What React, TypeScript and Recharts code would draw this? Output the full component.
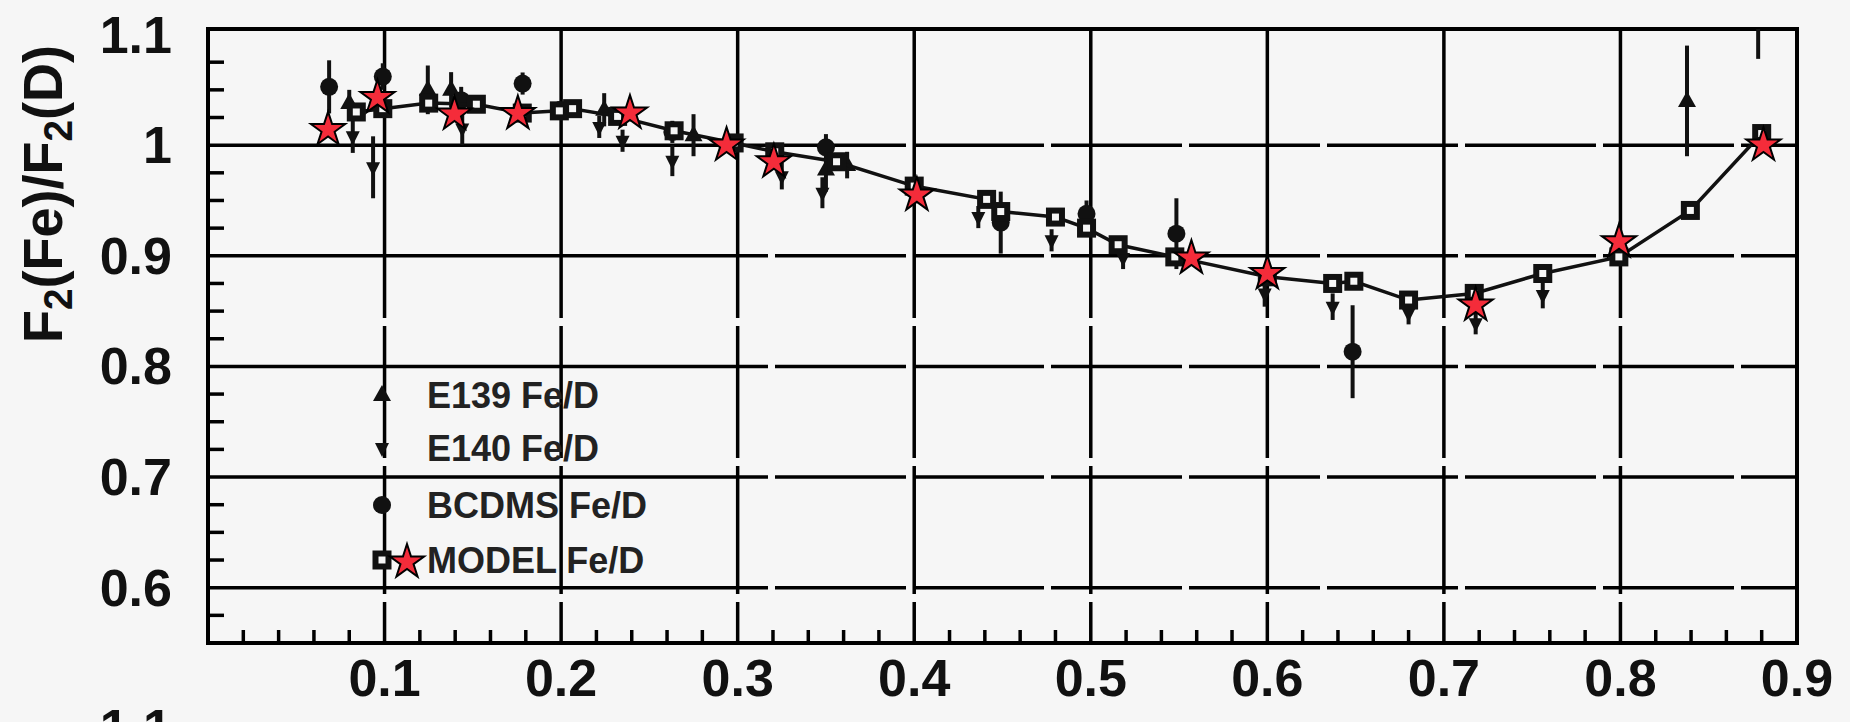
import { CartesianGrid, ErrorBar, Legend, ReferenceArea, Scatter, ScatterChart, XAxis, YAxis } from "recharts"

const W = 1850
const H = 722
const BG = "#f6f6f6"
const FONT = "'Liberation Sans', Arial, Helvetica, sans-serif"

// x, F2(Fe)/F2(D), error
const e139 = [
  { x: 0.08, y: 1.038, err: 0.012 },
  { x: 0.1245, y: 1.05, err: 0.022 },
  { x: 0.1377, y: 1.05, err: 0.016 },
  { x: 0.2244, y: 1.032, err: 0.015 },
  { x: 0.275, y: 1.009, err: 0.019 },
  { x: 0.35, y: 0.978, err: 0.02 },
  { x: 0.362, y: 0.982, err: 0.012 },
  { x: 0.8377, y: 1.04, err: 0.05 },
]

// last point sits above the frame, only the lower part of its bar shows
const e140 = [
  { x: 0.082, y: 1.008, err: 0.015 },
  { x: 0.0935, y: 0.98, err: 0.028 },
  { x: 0.144, y: 1.015, err: 0.015 },
  { x: 0.2216, y: 1.0165, err: 0.01 },
  { x: 0.2348, y: 1.004, err: 0.01 },
  { x: 0.263, y: 0.986, err: 0.014 },
  { x: 0.325, y: 0.972, err: 0.012 },
  { x: 0.348, y: 0.957, err: 0.014 },
  { x: 0.4363, y: 0.935, err: 0.01 },
  { x: 0.4778, y: 0.914, err: 0.01 },
  { x: 0.5183, y: 0.898, err: 0.01 },
  { x: 0.5985, y: 0.866, err: 0.012 },
  { x: 0.637, y: 0.854, err: 0.012 },
  { x: 0.68, y: 0.848, err: 0.01 },
  { x: 0.718, y: 0.839, err: 0.01 },
  { x: 0.756, y: 0.8645, err: 0.012 },
  { x: 0.878, y: 1.14, err: [0.062, -0.035] },
]

const bcdms = [
  { x: 0.0686, y: 1.0527, err: 0.024 },
  { x: 0.099, y: 1.062, err: 0.012 },
  { x: 0.1434, y: 1.0407, err: 0.012 },
  { x: 0.1782, y: 1.0557, err: 0.01 },
  { x: 0.1989, y: 1.0316, err: 0.008 },
  { x: 0.263, y: 1.012, err: 0.01 },
  { x: 0.35, y: 0.998, err: 0.012 },
  { x: 0.449, y: 0.93, err: 0.028 },
  { x: 0.4976, y: 0.938, err: 0.012 },
  { x: 0.5485, y: 0.92, err: 0.032 },
  { x: 0.6483, y: 0.8133, err: 0.042 },
]

const model = [
  { x: 0.084, y: 1.03 },
  { x: 0.099, y: 1.033 },
  { x: 0.125, y: 1.038 },
  { x: 0.152, y: 1.037 },
  { x: 0.178, y: 1.029 },
  { x: 0.199, y: 1.031 },
  { x: 0.2065, y: 1.033 },
  { x: 0.232, y: 1.026 },
  { x: 0.264, y: 1.013 },
  { x: 0.298, y: 1.002 },
  { x: 0.321, y: 0.994 },
  { x: 0.356, y: 0.985 },
  { x: 0.4, y: 0.963 },
  { x: 0.441, y: 0.951 },
  { x: 0.449, y: 0.94 },
  { x: 0.48, y: 0.935 },
  { x: 0.4976, y: 0.925 },
  { x: 0.5155, y: 0.91 },
  { x: 0.5476, y: 0.899 },
  { x: 0.6, y: 0.881 },
  { x: 0.637, y: 0.875 },
  { x: 0.649, y: 0.877 },
  { x: 0.68, y: 0.86 },
  { x: 0.7172, y: 0.866 },
  { x: 0.756, y: 0.884 },
  { x: 0.7991, y: 0.899 },
  { x: 0.8396, y: 0.941 },
  { x: 0.88, y: 1.0105 },
]

const stars = [
  { x: 0.068, y: 1.014 },
  { x: 0.096, y: 1.043 },
  { x: 0.1396, y: 1.028 },
  { x: 0.1755, y: 1.0286 },
  { x: 0.239, y: 1.029 },
  { x: 0.2937, y: 1.0 },
  { x: 0.3205, y: 0.985 },
  { x: 0.4015, y: 0.955 },
  { x: 0.557, y: 0.898 },
  { x: 0.6, y: 0.884 },
  { x: 0.718, y: 0.8555 },
  { x: 0.7992, y: 0.9127 },
  { x: 0.881, y: 1.0 },
]

const legendRows = [
  { name: "E139 Fe/D", mark: "up" },
  { name: "E140 Fe/D", mark: "down" },
  { name: "BCDMS Fe/D", mark: "dot" },
  { name: "MODEL Fe/D", mark: "box" },
]

const xTicks = Array.from({ length: 45 }, (_, i) => ((i + 1) * 20) / 1000)
const yTicks = Array.from({ length: 22 }, (_, i) => (550 + (i + 1) * 25) / 1000)
const gridX = [0.1, 0.2, 0.3, 0.4, 0.5, 0.6, 0.7, 0.8]
const gridY = [0.6, 0.7, 0.8, 0.9, 1.0]

const hDash = "560 7 131 7 131 7 131 7 131 7 131 7 131 7 131 7 400"
const vDash = "289 8 132 8 128 8 300"

const isMajor = (v: number) => Math.abs(v * 10 - Math.round(v * 10)) < 1e-6

function starPath(cx: number, cy: number, r: number) {
  const pts: string[] = []
  for (let i = 0; i < 10; i++) {
    const rad = i % 2 === 0 ? r : r * 0.382
    const a = -Math.PI / 2 + (i * Math.PI) / 5
    pts.push(`${cx + rad * Math.cos(a)},${cy + rad * Math.sin(a)}`)
  }
  return `M${pts.join("L")}Z`
}

const UpTri = ({ cx, cy }: any) => <path d={`M${cx},${cy - 10}L${cx + 9},${cy + 6}L${cx - 9},${cy + 6}Z`} fill="#111" />
const DownTri = ({ cx, cy }: any) => <path d={`M${cx},${cy + 9}L${cx + 7},${cy - 5}L${cx - 7},${cy - 5}Z`} fill="#111" />
const Dot = ({ cx, cy }: any) => <circle cx={cx} cy={cy} r={9} fill="#111" />
const Box = ({ cx, cy }: any) => (
  <rect x={cx - 6.5} y={cy - 6.5} width={13} height={13} fill={BG} stroke="#111" strokeWidth={6} />
)
const Star = ({ cx, cy }: any) => <path d={starPath(cx, cy, 18)} fill="#f42c3a" stroke="#000" strokeWidth={2} />

const markFor: Record<string, (p: any) => any> = { up: UpTri, down: DownTri, dot: Dot, box: Box }

function XTick({ x, y, payload }: any) {
  const v = payload.value
  if (isMajor(v)) {
    return (
      <text x={x} y={y + 35} textAnchor="middle" dominantBaseline="central" fontFamily={FONT} fontWeight={700} fontSize={52} fill="#111">
        {v.toFixed(1)}
      </text>
    )
  }
  return <line x1={x} x2={x} y1={y} y2={y - 13} stroke="#000" strokeWidth={3.5} />
}

function YTick({ x, y, payload }: any) {
  const v = payload.value
  if (isMajor(v)) {
    return (
      <text x={x - 36} y={y} textAnchor="end" dominantBaseline="central" fontFamily={FONT} fontWeight={700} fontSize={52} fill="#111">
        {v === 1 ? "1" : String(v)}
      </text>
    )
  }
  return <line x1={x} x2={x + 16} y1={y} y2={y} stroke="#000" strokeWidth={3.5} />
}

function YTitle() {
  return (
    <text
      x={62}
      y={194}
      transform="rotate(-90 62 194)"
      textAnchor="middle"
      fontFamily={FONT}
      fontWeight={700}
      fontSize={56}
      fill="#111"
      textLength={298}
      lengthAdjust="spacingAndGlyphs"
    >
      F<tspan dy={10} fontSize={40}>2</tspan>
      <tspan dy={-10}>(Fe)/F</tspan>
      <tspan dy={10} fontSize={40}>2</tspan>
      <tspan dy={-10}>(D)</tspan>
    </text>
  )
}

function LegendBox() {
  const rowsY = [25, 78, 135, 190]
  return (
    <svg width={330} height={220} style={{ display: "block", overflow: "visible" }}>
      {legendRows.map((r, i) => {
        const Mark = markFor[r.mark]
        return (
          <g key={r.name}>
            <Mark cx={22} cy={rowsY[i]} />
            <text x={67} y={rowsY[i]} dominantBaseline="central" fontFamily={FONT} fontWeight={700} fontSize={36} fill="#222">
              {r.name}
            </text>
          </g>
        )
      })}
      <Star cx={47} cy={192} />
    </svg>
  )
}

export default function App() {
  return (
    <div style={{ position: "relative", width: W, height: H, overflow: "hidden", background: BG }}>
      <style>{`body{margin:0;background:${BG}}`}</style>
      <ScatterChart width={W} height={H} margin={{ top: 29, right: 53, bottom: 0, left: 0 }}>
        <CartesianGrid
          horizontalValues={gridY}
          verticalValues={gridX}
          horizontal={(p: any) => (
            <line key={`h${p.index}`} x1={p.x1} y1={p.y1} x2={p.x2} y2={p.y2} stroke="#000" strokeWidth={3.5} strokeDasharray={hDash} />
          )}
          vertical={(p: any) => (
            <line key={`v${p.index}`} x1={p.x1} y1={p.y1} x2={p.x2} y2={p.y2} stroke="#000" strokeWidth={3.5} strokeDasharray={vDash} />
          )}
        />
        <XAxis
          type="number"
          dataKey="x"
          domain={[0, 0.9]}
          ticks={xTicks}
          interval={0}
          tick={<XTick />}
          tickLine={false}
          axisLine={false}
          tickSize={0}
          tickMargin={0}
          height={79}
          allowDataOverflow
        />
        <YAxis
          type="number"
          dataKey="y"
          domain={[0.55, 1.105]}
          ticks={yTicks}
          interval={0}
          tick={<YTick />}
          tickLine={false}
          axisLine={false}
          tickSize={0}
          tickMargin={0}
          width={208}
          allowDataOverflow
          label={<YTitle />}
        />
        <Legend
          layout="vertical"
          align="center"
          verticalAlign="middle"
          content={<LegendBox />}
          wrapperStyle={{ left: 360, top: 370, width: 330, height: 220 }}
        />
        <Scatter name="E139 Fe/D" data={e139} shape={UpTri} isAnimationActive={false}>
          <ErrorBar dataKey="err" direction="y" width={0} stroke="#111" strokeWidth={4} isAnimationActive={false} />
        </Scatter>
        <Scatter name="E140 Fe/D" data={e140} shape={DownTri} isAnimationActive={false}>
          <ErrorBar dataKey="err" direction="y" width={0} stroke="#111" strokeWidth={4} isAnimationActive={false} />
        </Scatter>
        <Scatter name="BCDMS Fe/D" data={bcdms} shape={Dot} isAnimationActive={false}>
          <ErrorBar dataKey="err" direction="y" width={0} stroke="#111" strokeWidth={4} isAnimationActive={false} />
        </Scatter>
        <Scatter
          name="MODEL Fe/D"
          data={model}
          shape={Box}
          line={{ stroke: "#111", strokeWidth: 3.5 }}
          lineJointType="linear"
          isAnimationActive={false}
        />
        <Scatter name="points" data={stars} shape={Star} legendType="none" isAnimationActive={false} />
        <ReferenceArea x1={0} x2={0.9} y1={0.55} y2={1.105} fill="none" stroke="#000" strokeWidth={4} ifOverflow="visible" />
      </ScatterChart>
      <svg width={220} height={H} style={{ position: "absolute", left: 0, top: 0 }}>
        <text x={172} y={746} textAnchor="end" fontFamily={FONT} fontWeight={700} fontSize={52} fill="#111">
          1.1
        </text>
      </svg>
    </div>
  )
}
